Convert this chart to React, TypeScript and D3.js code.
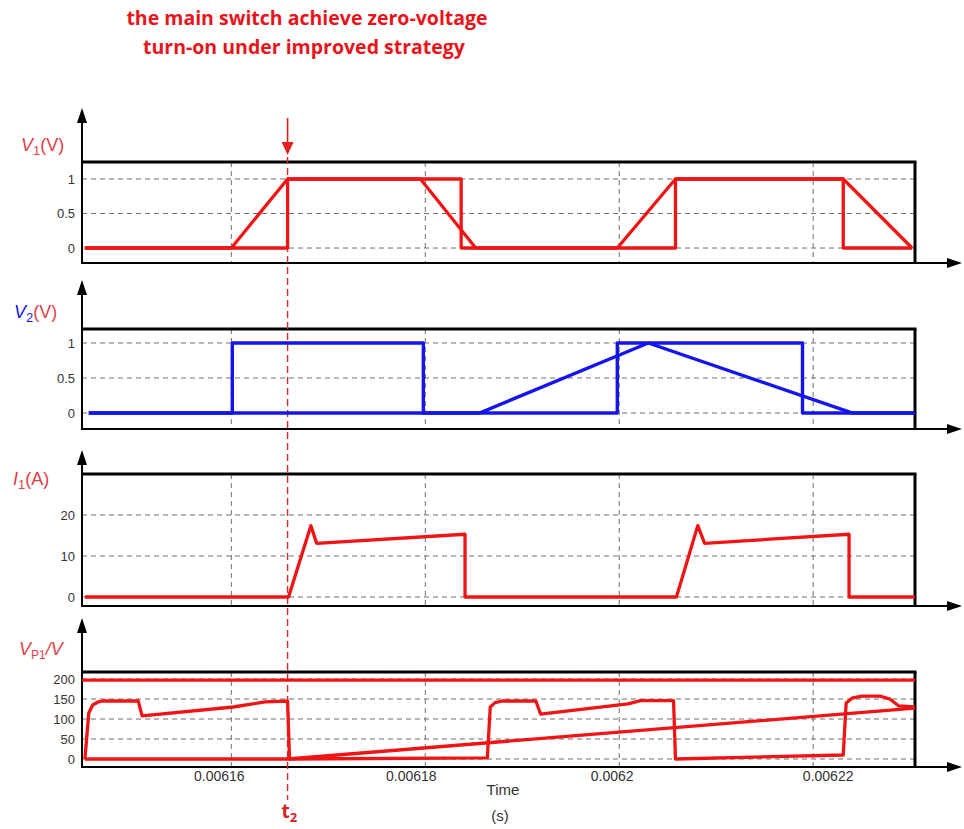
import React from 'react';
import * as d3 from 'd3';

const RED = '#f01414';
const BLUE = '#1414f0';
const LABEL_RED = '#e04048';
const GRID = '#6f6f6f';

// time axis
const xTicks = [0.00616, 0.00618, 0.0062, 0.00622];
const xTickLabels = ['0.00616', '0.00618', '0.0062', '0.00622'];
const t2 = 0.0061658;

// V1 (V): ramped switch voltage and gate square
const v1Ramp: [number, number][] = [
  [0.0061449, 0], [0.00616, 0], [0.0061658, 1], [0.0061795, 1], [0.0061852, 0],
  [0.0061998, 0], [0.0062058, 1], [0.0062231, 1], [0.0062302, 0],
];
const v1Gate: [number, number][] = [
  [0.0061449, 0], [0.0061658, 0], [0.0061658, 1], [0.0061837, 1], [0.0061837, 0],
  [0.0062058, 0], [0.0062058, 1], [0.0062231, 1], [0.0062231, 0], [0.0062302, 0],
];

// V2 (V)
const v2Gate: [number, number][] = [
  [0.0061453, 0], [0.0061601, 0], [0.0061601, 1], [0.0061798, 1], [0.0061798, 0],
  [0.0061998, 0], [0.0061998, 1], [0.0062189, 1], [0.0062189, 0], [0.0062305, 0],
];
const v2Tri: [number, number][] = [
  [0.0061453, 0], [0.0061856, 0], [0.006203, 1], [0.006224, 0], [0.0062305, 0],
];

// I1 (A)
const i1: [number, number][] = [
  [0.0061449, 0], [0.0061659, 0], [0.0061682, 17.4], [0.0061688, 13.1], [0.0061841, 15.3],
  [0.0061841, 0], [0.0062059, 0], [0.0062081, 17.4], [0.0062088, 13.1], [0.0062237, 15.3],
  [0.0062237, 0], [0.0062305, 0],
];

// VP1 (V)
const vp1Main: [number, number][] = [
  [0.0061449, 0], [0.0061453, 115], [0.0061457, 135], [0.0061462, 142], [0.0061467, 145],
  [0.0061504, 145], [0.0061508, 108], [0.0061602, 130], [0.0061635, 143], [0.0061658, 145],
  [0.006166, 0], [0.0061864, 3], [0.0061867, 130], [0.0061872, 141], [0.0061879, 145],
  [0.0061914, 145], [0.0061919, 112], [0.0062009, 138], [0.0062022, 146], [0.0062056, 146],
  [0.0062058, 0], [0.0062231, 10], [0.0062234, 140], [0.006224, 152], [0.006225, 157],
  [0.0062269, 157], [0.0062279, 150], [0.0062288, 133], [0.0062305, 130],
];
const vp1Ramp: [number, number][] = [
  [0.0061449, 0], [0.0061658, 0], [0.0062305, 127],
];
const vp1Bus: [number, number][] = [
  [0.0061446, 197], [0.0062305, 197],
];

const v1Ticks = [0, 0.5, 1];
const v2Ticks = [0, 0.5, 1];
const i1Ticks = [0, 10, 20];
const vp1Ticks = [0, 50, 100, 150, 200];

const X_LEFT = 82;
const X_RIGHT = 915;
const X_ARROW = 962;
const xLabelShift = [-12, -14, -7, 15];

const x = d3.scaleLinear().domain([0.0061446, 0.0062305]).range([X_LEFT, X_RIGHT]);

type Trace = { data: [number, number][]; color: string; width: number };
type Panel = {
  key: string;
  top: number;
  bottom: number;
  arrowTop: number;
  domain: [number, number];
  ticks: number[];
  traces: Trace[];
  label: React.ReactNode;
};

const labelFont = { fontFamily: 'Liberation Sans, Arial, sans-serif', fontSize: 18 };

const panels: Panel[] = [
  {
    key: 'v1', top: 162, bottom: 263, arrowTop: 108, domain: [-0.217, 1.246], ticks: v1Ticks,
    traces: [{ data: v1Ramp, color: RED, width: 3.3 }, { data: v1Gate, color: RED, width: 3.3 }],
    label: (
      <text x={21} y={151} fill={LABEL_RED} {...labelFont}>
        <tspan fontStyle="italic">V</tspan>
        <tspan fontSize={13} dy={4}>1</tspan>
        <tspan dy={-4}>(V)</tspan>
      </text>
    ),
  },
  {
    key: 'v2', top: 329, bottom: 429, arrowTop: 280, domain: [-0.229, 1.2], ticks: v2Ticks,
    traces: [{ data: v2Gate, color: BLUE, width: 3.4 }, { data: v2Tri, color: BLUE, width: 3.4 }],
    label: (
      <text x={14} y={318} fill={LABEL_RED} {...labelFont}>
        <tspan fontStyle="italic" fill={BLUE}>V</tspan>
        <tspan fontSize={13} dy={4} fill={BLUE}>2</tspan>
        <tspan dy={-4}>(V)</tspan>
      </text>
    ),
  },
  {
    key: 'i1', top: 474, bottom: 606, arrowTop: 450, domain: [-2.2, 30], ticks: i1Ticks,
    traces: [{ data: i1, color: RED, width: 3.3 }],
    label: (
      <text x={13} y={485} fill={LABEL_RED} {...labelFont}>
        <tspan fontStyle="italic">I</tspan>
        <tspan fontSize={13} dy={4}>1</tspan>
        <tspan dy={-4}>(A)</tspan>
      </text>
    ),
  },
  {
    key: 'vp1', top: 672, bottom: 767, arrowTop: 618, domain: [-20, 217.5], ticks: vp1Ticks,
    traces: [
      { data: vp1Bus, color: RED, width: 3.3 },
      { data: vp1Ramp, color: RED, width: 3.3 },
      { data: vp1Main, color: RED, width: 3.3 },
    ],
    label: (
      <text x={19} y={655} fill={LABEL_RED} {...labelFont}>
        <tspan fontStyle="italic">V</tspan>
        <tspan fontSize={12} dy={4}>P1</tspan>
        <tspan dy={-4} fontStyle="italic">/V</tspan>
      </text>
    ),
  },
];

function PanelView({ p }: { p: Panel }) {
  const y = d3.scaleLinear().domain(p.domain).range([p.bottom, p.top]);
  return (
    <g>
      {/* grid */}
      {p.ticks.map((t) => (
        <line key={'h' + t} x1={X_LEFT} x2={X_RIGHT} y1={y(t)} y2={y(t)} stroke={GRID} strokeDasharray="5,4" strokeWidth={1} />
      ))}
      {xTicks.map((t) => (
        <line key={'v' + t} x1={x(t)} x2={x(t)} y1={p.top} y2={p.bottom} stroke={GRID} strokeDasharray="5,4" strokeWidth={1} />
      ))}
      {/* tick labels */}
      {p.ticks.map((t) => (
        <text key={'l' + t} x={75} y={y(t)} dy="0.35em" textAnchor="end" fontFamily="Liberation Sans, Arial, sans-serif" fontSize={13} fill="#333">
          {t}
        </text>
      ))}
      {/* frame */}
      <line x1={X_LEFT} x2={X_RIGHT + 1.5} y1={p.top} y2={p.top} stroke="#000" strokeWidth={3} />
      <line x1={X_RIGHT} x2={X_RIGHT} y1={p.top} y2={p.bottom} stroke="#000" strokeWidth={3} />
      <line x1={X_LEFT} x2={X_ARROW - 10} y1={p.bottom} y2={p.bottom} stroke="#000" strokeWidth={2} />
      <path d={`M${X_ARROW},${p.bottom} L${X_ARROW - 15},${p.bottom - 5} L${X_ARROW - 15},${p.bottom + 5} Z`} fill="#000" />
      <line x1={X_LEFT} x2={X_LEFT} y1={p.bottom + 1} y2={p.arrowTop + 10} stroke="#000" strokeWidth={2} />
      <path d={`M${X_LEFT},${p.arrowTop} L${X_LEFT - 5},${p.arrowTop + 15} L${X_LEFT + 5},${p.arrowTop + 15} Z`} fill="#000" />
      {p.label}
    </g>
  );
}

function Traces({ p }: { p: Panel }) {
  const y = d3.scaleLinear().domain(p.domain).range([p.bottom, p.top]);
  const line = d3
    .line<[number, number]>()
    .x((d) => x(d[0]))
    .y((d) => y(d[1]));
  return (
    <g>
      {p.traces.map((tr, i) => (
        <path key={i} d={line(tr.data) || ''} fill="none" stroke={tr.color} strokeWidth={tr.width} strokeLinejoin="round" />
      ))}
    </g>
  );
}

export default function App() {
  const last = panels[panels.length - 1];
  const xt = x(t2);
  return (
    <svg width={964} height={829} viewBox="0 0 964 829" style={{ position: 'absolute', left: 0, top: 0, background: '#fff' }}>
      <rect width={964} height={829} fill="#fff" />
      <g fontFamily="Open Sans, sans-serif" fontWeight={700} fontSize={19.5} fill="#e8141c" textAnchor="middle">
        <text x={307} y={25}>the main switch achieve zero-voltage</text>
        <text x={304} y={54}>turn-on under improved strategy</text>
      </g>
      {panels.map((p) => (
        <PanelView key={p.key} p={p} />
      ))}
      {/* t2 marker */}
      <line x1={xt} x2={xt} y1={157} y2={800} stroke="#d42a2a" strokeWidth={1.4} strokeDasharray="7,4" />
      <line x1={xt} x2={xt} y1={118} y2={145} stroke="#e02020" strokeWidth={1.6} />
      <path d={`M${xt},${155} L${xt - 6},${142} L${xt + 6},${142} Z`} fill="#e02020" />
      {panels.map((p) => (
        <Traces key={p.key} p={p} />
      ))}
      {/* x tick labels */}
      {xTicks.map((t, i) => (
        <text key={t} x={x(t) + xLabelShift[i]} y={last.bottom + 14} textAnchor="middle" fontFamily="Liberation Sans, Arial, sans-serif" fontSize={14} fill="#333">
          {xTickLabels[i]}
        </text>
      ))}
      <text x={503} y={795} textAnchor="middle" fontFamily="Liberation Sans, Arial, sans-serif" fontSize={15} fill="#333">Time</text>
      <text x={500} y={821} textAnchor="middle" fontFamily="Liberation Sans, Arial, sans-serif" fontSize={15} fill="#333">(s)</text>
      <text x={xt - 6} y={818} fontFamily="Open Sans, sans-serif" fontWeight={700} fontSize={19} fill="#d42020">
        t<tspan fontSize={13} dy={4}>2</tspan>
      </text>
    </svg>
  );
}
